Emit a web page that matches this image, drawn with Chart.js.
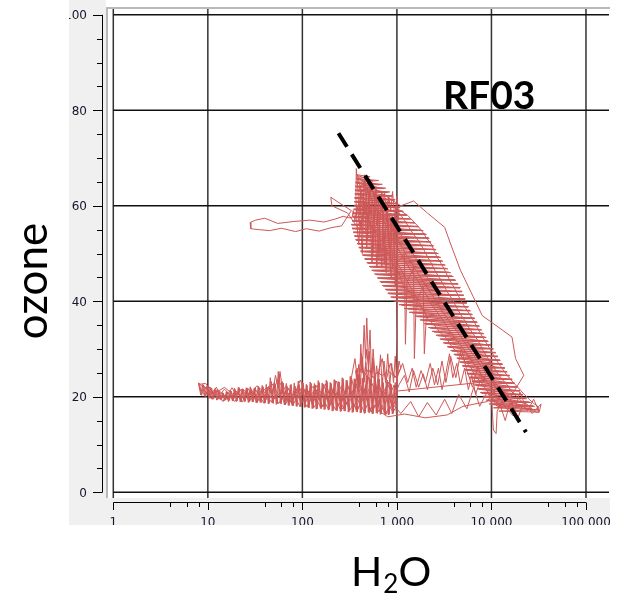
<!DOCTYPE html>
<html><head><meta charset="utf-8">
<script src="https://cdn.jsdelivr.net/npm/chart.js@4.4.1/dist/chart.umd.min.js"></script>
<style>html,body{margin:0;padding:0;background:#fff;overflow:hidden}canvas{display:block}</style>
</head><body>
<canvas id="c" width="621" height="597"></canvas>
<script>
// ---- axis ticks ----
const xTickValues = [1, 10, 100, 1000, 10000, 100000];
const xTickLabels = ['1', '10', '100', '1 000', '10 000', '100 000'];
const xMinorFactors = [4, 6, 8];
const yTickValues = [0, 20, 40, 60, 80, 100];
const yTickLabels = ['0', '20', '40', '60', '80', '100'];
const yMinorStep = 5;

// ---- fitted dashed line [H2O, ozone] ----
const fitH2O = [241, 23200];
const fitOzone = [75.2, 12.6];

// ---- flight track legs: [H2O, ozone] ----
const lowBandEast = [[8,22.6],[9.5,22.8],[10.5,21.5],[10,20.5],[11,19.5],[12,21.8],[13,20.2],[14.5,19],[16,21],[17,20.4],[18.5,19.2],[20,21.2],[22,20.1],[24,19.6],[26,21.4],[28,19.2],[31,20.8],[34,19.8],[37,21.6],[40,19.3],[44,22.2],[48,20.6],[52,24.5],[55,22.0],[58,25.3],[62,21.0],[67,19.0],[72,20.8],[78,18.5],[85,21.3],[92,19.7],[100,22.0],[108,18.8],[118,20.7],[128,18.2],[140,21.5],[152,19.4],[165,17.9],[180,20.6],[195,18.6],[212,21.8],[230,19.0],[250,17.5],[270,20.4],[295,18.4],[320,21.2],[350,17.8],[380,19.6],[410,18.3],[450,21.5],[490,19.0],[530,17.2],[580,20.2],[630,18.0],[690,21.0],[750,18.6],[820,20.4],[900,17.6],[980,19.8]];
const risingStrand = [[1000,22],[1010,28],[990,33],[1005,38],[995,44],[1010,48]];
const dropStrands = [[1200,50],[1230,31],[1280,44],[1500,47],[1530,28],[1600,40],[1900,43],[1950,29],[2050,37]];
const upperCluster = [[1010,48],[960,55],[985,60],[920,53],[890,58],[850,50],[870,45],[820,52],[790,61],[760,55],[735,48],[710,57],[690,63],[660,56],[645,49],[620,58],[600,64],[575,57],[560,50],[540,59],[520,65],[505,60],[490,53],[470,62],[455,66.5],[440,60],[425,55],[410,63],[398,58],[385,64],[372,67.8],[368,62],[378,56],[395,52],[410,57],[430,50],[448,61],[465,57],[480,51],[500,62],[525,56],[545,48],[570,60],[590,54],[615,47],[640,60],[665,53],[690,47],[715,59],[745,52],[770,46],[800,58],[830,51],[860,57],[900,47],[930,56],[960,43],[990,52],[1040,58],[1000,62],[950,57],[900,63],[860,59],[820,62],[780,57],[740,63],[700,59],[650,62],[610,56],[570,63],[530,58],[490,64],[450,58],[420,61],[400,56],[380,60],[360,57],[345,59],[335,57.5]];
const upperStrand = [[310,57.5],[270,57.8],[220,57.2],[170,56.6],[120,57.0],[80,56.7],[55,56.3],[40,57.4],[32,57.0],[28,56.5],[28.5,55.2],[35,55.0],[45,54.8],[60,55.3],[85,54.6],[110,55.2],[150,54.7],[200,55.4],[260,55.8],[330,59],[250,60.5],[200,61.8],[205,60],[300,58.5],[380,55.6],[450,54.5],[520,56]];
const diagonalHatch = [[380,66.5],[520,66.1],[370,65.7],[640,65.3],[365,64.9],[700,64.5],[362,64.1],[760,63.7],[360,63.3],[840,62.9],[358,62.5],[900,62.1],[356,61.7],[960,61.3],[355,60.9],[1000,60.5],[352,60.1],[1050,59.7],[348,59.3],[1150,58.9],[345,58.5],[1250,58.1],[340,57.7],[1350,57.3],[335,56.9],[1500,56.5],[330,56.1],[1650,55.7],[335,55.3],[1800,54.9],[345,54.5],[2000,54.1],[355,53.7],[2150,53.3],[365,52.9],[2250,52.5],[380,52.1],[2400,51.7],[395,51.3],[2500,50.9],[410,50.5],[2650,50.1],[430,49.7],[2800,49.3],[455,48.9],[2950,48.5],[480,48.1],[3100,47.7],[510,47.3],[3300,46.9],[540,46.5],[3550,46.1],[580,45.7],[3800,45.3],[620,44.9],[4100,44.5],[660,44.1],[4400,43.7],[700,43.3],[4700,42.9],[750,42.5],[4900,42.1],[800,41.7],[5100,41.3],[860,40.9],[5300,40.5],[920,40.1],[5500,39.7],[1050,39.3],[5700,38.9],[1200,38.5],[5900,38.1],[1350,37.7],[6200,37.3],[1550,36.9],[6600,36.5],[1750,36.1],[7000,35.7],[1950,35.3],[7300,34.9],[2150,34.5],[7700,34.1],[2350,33.7],[8100,33.3],[2600,32.9],[8600,32.5],[2850,32.1],[9100,31.7],[3100,31.3],[9700,30.9],[3400,30.5],[10400,30.1],[3700,29.7],[11000,29.3],[4000,28.9],[11700,28.5],[4300,28.1],[12300,27.7],[4600,27.3],[13000,26.9],[4900,26.5],[13800,26.1],[5200,25.7],[14600,25.3],[5500,24.9],[15500,24.5],[5800,24.1],[16500,23.7],[6200,23.3],[17500,22.9],[6600,22.5],[18800,22.1],[7100,21.7],[20000,21.3],[7600,20.9],[21500,20.5],[8200,20.1],[23000,19.7],[8800,19.3],[25000,18.9],[9500,18.5],[27500,18.1],[10500,17.7],[30000,17.3],[12000,17.0],[32000,16.8]];
const diagonalHatch2 = [[31000,17.2],[10000,18.4],[28500,18.0],[9000,19.2],[26000,18.8],[8400,20.0],[23500,19.6],[7800,20.8],[21500,20.4],[7300,21.6],[20000,21.2],[6800,22.4],[18800,22.0],[6300,23.2],[17600,22.8],[5900,24.0],[16600,23.6],[5600,24.8],[15600,24.4],[5300,25.6],[14700,25.2],[5000,26.4],[13900,26.0],[4700,27.2],[13100,26.8],[4400,28.0],[12400,27.6],[4100,28.8],[11700,28.4],[3800,29.6],[11100,29.2],[3500,30.4],[10500,30.0],[3200,31.2],[9900,30.8],[2950,32.0],[9300,31.6],[2700,32.8],[8800,32.4],[2450,33.6],[8300,33.2],[2250,34.4],[7900,34.0],[2050,35.2],[7500,34.8],[1850,36.0],[7100,35.6],[1650,36.8],[6700,36.4],[1450,37.6],[6300,37.2],[1300,38.4],[6000,38.0],[1120,39.2],[5700,38.8],[960,40.0],[5450,39.6],[880,40.8],[5250,40.4],[820,41.6],[5050,41.2],[770,42.4],[4850,42.0],[720,43.2],[4650,42.8],[680,44.0],[4450,43.6],[640,44.8],[4200,44.4],[600,45.6],[3950,45.2],[560,46.4],[3700,46.0],[520,47.2],[3450,46.8],[490,48.0],[3250,47.6],[460,48.8],[3050,48.4],[440,49.6],[2900,49.2],[420,50.4],[2750,50.0],[400,51.2],[2600,50.8],[385,52.0],[2450,51.6],[370,52.8],[2300,52.4],[358,53.6],[2200,53.2],[348,54.4],[2050,54.0],[338,55.2],[1900,54.8],[332,56.0],[1700,55.6],[336,56.8],[1550,56.4],[342,57.6],[1400,57.2],[346,58.4],[1280,58.0],[350,59.2],[1170,58.8],[353,60.0],[1080,59.6],[356,60.8],[1010,60.4],[358,61.6],[950,61.2],[360,62.4],[880,62.0],[362,63.2],[800,62.8],[365,64.0],[720,63.6],[368,64.8],[650,64.4],[372,65.6],[560,65.2],[378,66.4]];
const ascentMid = [[30000,16.8],[26000,17.2],[22000,17.8],[18000,18.6],[15000,19.2],[12500,20.6],[11000,22.2],[9500,24],[8500,25.2],[7500,26.8],[6600,28.5],[5900,29.8],[5200,31.4],[4600,33],[4000,34.6],[3500,36.2],[3100,37.5],[2750,39.2],[2450,40.8],[2200,42.2],[1950,43.8],[1750,45.2],[1550,46.8],[1400,48.4],[1250,49.8],[1120,51.5],[1000,53.2],[890,55],[800,56.5],[720,58.2],[650,60],[590,61.8],[530,63.6],[480,65.2]];
const descentLeft = [[400,64],[415,62.5],[430,61],[450,59.5],[480,58],[500,57],[520,56],[580,54.5],[680,53],[740,51.5],[820,50],[880,48.5],[950,47],[1040,46.2],[1150,43.6],[1300,42.5],[1500,41],[1650,39.5],[1900,38.3],[2150,36.2],[2500,35],[2850,33.5],[3300,32.4],[3900,30.2],[4600,29],[5200,27.5],[6000,26.3],[6800,24.2],[7800,23],[8800,21.5],[9800,20.3],[10700,18.8],[11500,18]];
const ascentRight = [[27000,17.5],[24000,18.4],[21000,19],[18500,20.1],[16500,21],[14500,22.6],[12500,24],[11200,25.4],[10000,27],[9000,28.3],[8000,30],[7300,31.6],[6500,33],[5800,34.4],[5200,36],[4700,37.3],[4200,39],[3800,40.6],[3400,42],[3100,43.5],[2800,45],[2550,46.3],[2300,48],[2100,49.4],[1900,51],[1700,52.6],[1500,54],[1350,55.4],[1200,57],[1050,58.6],[900,60]];
const descentRight = [[1300,58],[1550,56.4],[1800,55],[2050,53.3],[2300,52],[2500,50.4],[2700,49],[3000,47.6],[3300,46],[3650,44.3],[4000,43],[4400,41.4],[4800,40],[5400,38.4],[6000,37],[6600,35.6],[7300,34],[8100,32.4],[9000,31],[10000,29.5],[11000,28],[12500,26.4],[14000,25],[16500,23.3],[19000,22],[22000,20.6],[25000,19.5],[28000,18.6],[31000,18]];
const descentCentre = [[560,63],[620,61.3],[700,60],[790,58.4],[900,57],[990,55.6],[1100,54],[1220,52.3],[1350,51],[1520,49.6],[1700,48],[1880,46.4],[2100,45],[2330,43.3],[2600,42],[2880,40.4],[3200,39],[3600,37.6],[4000,36],[4500,34.3],[5000,33],[5600,31.5],[6300,30],[7100,28.4],[8000,27],[9000,25.3],[10000,24],[11500,22.4],[13000,21],[15000,19.6],[17000,18.5]];
const ascentLeft = [[14000,18],[12800,19.3],[11500,20],[10300,21.6],[9000,23],[8000,24.4],[7000,26],[6300,27.3],[5500,29],[4800,30.6],[4200,32],[3700,33.4],[3300,35],[2900,36.7],[2600,38],[2300,39.5],[2100,41],[1900,42.3],[1700,44],[1500,45.6],[1350,47],[1220,48.4],[1100,50],[1000,51.6],[900,53],[830,54.3],[760,56],[690,57.4],[620,59],[570,60.5],[520,62],[480,63.4],[450,65]];
const outerEdge = [[1100,60],[1500,61],[2100,58.5],[3200,55.5],[3700,52],[4700,46.5],[6400,41],[8000,37],[13000,34],[16500,32.5],[18000,28],[22000,24.5],[16000,20]];
const rightEnd = [[14000,20.5],[11500,17],[11200,12.3],[10500,13],[10000,20],[12500,18],[14000,15],[16000,19.5],[19000,15.5],[22000,19],[27000,16.5],[33500,18.5],[32000,16.8],[28000,19.5],[24000,17],[20000,21],[17000,16],[13000,18.5],[10500,19]];
const lowBandWest = [[9000,21],[7500,18],[6500,22],[5500,17.5],[4500,20.5],[3800,16.5],[3200,19.5],[2600,16.2],[2100,18.8],[1700,15.8],[1400,19],[1100,16.5],[900,18.5],[760,16.2],[640,19.2],[540,16.8],[460,20.3],[380,17.3],[320,19.5],[270,17.8],[230,20.8],[195,18.4],[165,20.9],[140,18.8],[118,21.3],[100,19.2],[85,20.4],[72,18.9],[60,21.1],[50,19.5],[42,20.7],[35,19.3],[29,21.2],[24,19.9],[20,20.8],[16,19.6],[13,21.4],[11,20.6],[9,22.3]];
const lowBandEast2 = [[10,21.4],[12,20.8],[15,22.0],[19,20.3],[23,21.6],[28,20.5],[33,22.3],[40,20.9],[48,22.7],[57,20.2],[68,22.4],[80,19.8],[95,23.5],[110,20.5],[130,22.2],[150,19.6],[175,22.7],[200,20.0],[230,23.3],[260,18.9],[300,22.5],[340,20.3],[390,23.6],[440,20.6],[500,24.1],[560,19.4],[640,22.8],[720,20.1],[810,23.1],[920,19.5],[1050,22.5],[1200,24.5],[1350,21.0],[1500,25.5],[1700,22.0],[1900,24.8],[2100,21.5],[2400,26.0],[2700,22.5],[3000,27.5],[3300,23.0],[3700,28.5],[4200,24.0],[4800,30.0],[5500,25.5],[6300,22.0],[7200,26.5],[8200,23.0],[9500,27.5],[11000,21.5]];
const lowerSpikes = [[9000,19],[5000,18],[3400,16.2],[2000,15.6],[1200,16.4],[800,15.8],[650,17],[600,22],[560,30],[540,24],[520,34],[500,27],[480,36.5],[465,28],[450,35],[430,25],[415,31],[400,22],[380,26],[360,21],[330,24],[360,28],[390,22],[420,29],[450,23],[480,30],[520,22],[560,27],[600,21],[650,26],[700,28],[760,23],[850,27],[950,24],[1100,26]];
const lowerLeftBlob = [[1050,27.5],[1000,22.5],[960,28.5],[920,23],[880,27],[840,22.5],[800,29],[765,23.5],[730,27.5],[700,22],[670,28.8],[640,23.2],[610,26.5],[585,22.4],[560,28],[535,23],[510,29.5],[490,22.8],[470,27.2],[450,23.5],[430,28.4],[410,22.6],[395,26.8],[380,23],[365,25.5],[390,24.2],[420,26],[460,24.5],[500,25.8],[560,24],[620,25.2],[700,24.4],[800,25.5],[900,24.6]];
const midLowCluster = [[1000,24],[1150,27],[1300,23],[1450,26],[1600,22],[1800,25.5],[2000,23],[2250,27],[2500,22.5],[2750,26],[3000,21.5],[3300,25],[3600,29],[3900,24],[4300,27],[4700,22.5],[5200,26],[5700,21.5],[6200,24.5],[6800,20.5],[7500,23]];
const lowBandFillA = [[1000,21.2],[930,22.4],[870,21.0],[800,22.6],[740,21.4],[690,20.6],[640,22.0],[590,21.1],[545,22.8],[500,21.3],[465,20.4],[430,22.1],[395,21.0],[365,22.5],[335,20.8],[310,21.9],[285,20.6],[262,22.3],[240,21.2],[220,20.3],[202,21.8],[186,20.7],[170,22.0],[156,20.9],[143,22.4],[131,21.0],[120,20.2],[110,21.6],[101,20.5],[93,22.0],[85,21.2],[78,20.3],[71,21.7],[65,20.6],[60,22.4],[55,23.6],[50,21.8],[46,20.8],[42,22.0],[38,21.1],[35,20.3],[32,21.5],[29,20.4],[26.5,21.8],[24,20.6],[22,21.5],[20,20.5],[18,21.9],[16.5,20.8],[15,21.6],[13.5,20.5],[12.3,22.0],[11.2,21.0],[10.2,22.2],[9.3,21.7],[8.5,22.4],[8,22.9]];
const lowBandFillB = [[8.2,21.5],[9,20.6],[10,21.0],[11,19.8],[12,20.4],[13.2,19.5],[14.5,20.6],[16,19.4],[17.5,20.2],[19.2,19.0],[21,20.0],[23,18.9],[25,20.1],[27.5,19.1],[30,20.3],[33,18.8],[36,19.9],[39,18.7],[43,20.0],[47,18.9],[51,20.2],[56,18.6],[61,19.8],[66,18.4],[72,19.6],[79,18.2],[86,19.5],[94,18.0],[103,19.3],[112,17.9],[122,19.4],[133,17.8],[145,19.0],[158,17.6],[172,18.9],[188,17.5],[205,18.8],[224,17.3],[245,18.7],[268,17.4],[292,18.9],[318,17.2],[347,18.6],[378,17.0],[412,18.5],[450,16.9],[490,18.4],[535,16.8],[585,18.3],[640,16.9],[700,18.2],[765,16.6],[835,18.0],[910,16.8],[1000,18.1]];
const lowBandHatch2 = [[960,23.0],[915,16.5],[872,22.6],[830,16.3],[791,23.5],[753,16.4],[717,23.0],[683,16.4],[651,23.7],[620,16.5],[590,24.0],[562,16.5],[536,23.8],[510,16.6],[486,24.6],[463,16.6],[441,24.0],[420,16.7],[400,24.2],[381,16.8],[363,23.7],[346,16.8],[329,24.0],[313,16.9],[298,23.4],[284,17.0],[270,23.8],[258,17.0],[246,23.1],[234,17.1],[223,23.4],[212,17.1],[202,22.8],[192,17.3],[183,23.2],[174,17.4],[166,22.7],[158,17.5],[151,23.0],[144,17.5],[137,22.5],[130,17.6],[124,22.8],[118,17.7],[112,22.4],[107,17.8],[102,22.9],[97,17.9],[92.5,22.6],[88,18.0],[84,22.2],[80,18.1],[76,22.6],[72.5,18.2],[69,22.0],[66,18.3],[62.8,22.9],[59.8,18.5],[57,24.4],[54.3,18.5],[51.7,22.5],[49.2,18.6],[46.9,23.2],[44.6,18.6],[42.5,22.0],[40.5,18.7],[38.5,22.1],[36.7,18.8],[35,21.9],[33.3,18.8],[31.7,22.0],[30.2,18.9],[28.8,21.7],[27.4,18.9],[26.1,21.8],[24.9,19.0],[23.7,21.6],[22.5,19.0],[21.5,21.9],[20.4,19.1],[19.5,21.5],[18.6,19.2],[17.7,21.2],[16.9,19.2],[16.1,21.0],[15.3,19.3],[14.6,20.8],[13.9,19.3],[13.3,21.1],[12.7,19.4],[12.1,21.4],[11.5,19.5],[11,21.8],[10.5,19.7],[10,22.1],[9.5,20.0],[9,22.5],[8.6,20.3],[8.2,22.6]];
const lowBandHatch = [[8,22.8],[8.4,20.4],[8.8,22.6],[9.2,20.1],[9.7,22.2],[10.2,19.6],[10.7,22.0],[11.2,19.5],[11.8,21.3],[12.4,19.3],[13,21.0],[13.6,19.4],[14.3,20.9],[15,19.2],[15.7,21.1],[16.5,19.0],[17.3,21.4],[18.2,19.1],[19.1,21.8],[20,19.0],[21,22.0],[22,18.9],[23.1,21.7],[24.3,19.0],[25.5,21.9],[26.8,18.8],[28.1,22.1],[29.5,18.9],[31,21.8],[32.5,18.7],[34.1,22.2],[35.8,18.8],[37.6,22.4],[39.5,18.6],[41.5,22.6],[43.6,18.5],[45.8,24.0],[48,18.7],[50.4,23.0],[53,18.4],[55.6,25.3],[58.4,18.6],[61.3,23.2],[64.4,18.3],[67.6,22.8],[71,18.2],[74.5,22.5],[78.2,18.1],[82.1,22.9],[86.2,18.0],[90.5,23.3],[95,17.9],[99.8,23.0],[105,17.8],[110,22.6],[115.5,17.7],[121,23.1],[127,17.5],[134,22.8],[140,17.4],[147,23.4],[155,17.6],[162,22.9],[170,17.3],[179,23.5],[188,17.2],[197,23.0],[207,17.0],[217,23.6],[228,17.1],[240,23.2],[252,16.9],[264,24.0],[277,17.0],[291,23.5],[306,16.8],[321,24.3],[337,16.7],[354,23.8],[372,16.9],[390,24.6],[410,16.6],[430,23.9],[452,16.5],[474,24.4],[498,16.8],[523,23.6],[549,16.4],[576,24.2],[605,16.6],[635,23.4],[667,16.3],[700,23.9],[735,16.5],[772,23.2],[811,16.2],[851,22.8],[894,16.4],[938,22.5],[985,16.6]];

const flightTrack = [].concat(lowBandEast, risingStrand, dropStrands, upperCluster, upperStrand,
  diagonalHatch, ascentMid, descentLeft, ascentRight, descentRight, diagonalHatch2,
  descentCentre, ascentLeft, outerEdge, rightEnd, lowBandWest, lowBandEast2, lowerSpikes,
  lowerLeftBlob, midLowCluster, lowBandFillA, lowBandFillB, lowBandHatch2, lowBandHatch);

const W = 621, H = 597;
const panel = {left: 69, right: 610, bottom: 525};
const plotBox = {left: 106, top: 0, right: 610, bottom: 498, frameY: 8};

const decor = {
  id: 'decor',
  beforeDraw(chart) {
    const ctx = chart.ctx, xs = chart.scales.x, ys = chart.scales.y;
    ctx.save();
    ctx.fillStyle = '#ffffff'; ctx.fillRect(0, 0, W, H);
    ctx.fillStyle = '#f0f0f0'; ctx.fillRect(panel.left, 0, panel.right - panel.left, panel.bottom);
    ctx.fillStyle = '#ffffff'; ctx.fillRect(plotBox.left, plotBox.top, plotBox.right - plotBox.left, plotBox.bottom - plotBox.top);
    ctx.strokeStyle = '#b9b9b9'; ctx.lineWidth = 2;
    ctx.beginPath();
    ctx.moveTo(107, plotBox.bottom); ctx.lineTo(107, plotBox.frameY); ctx.lineTo(plotBox.right, plotBox.frameY);
    ctx.stroke();
    ctx.strokeStyle = '#333'; ctx.lineWidth = 1.5;
    xTickValues.forEach(v => {
      const px = xs.getPixelForValue(v);
      ctx.beginPath(); ctx.moveTo(px, plotBox.frameY + 1); ctx.lineTo(px, plotBox.bottom); ctx.stroke();
    });
    ctx.strokeStyle = '#111'; ctx.lineWidth = 1.5;
    const x0 = xs.getPixelForValue(xTickValues[0]);
    yTickValues.forEach(v => {
      const py = ys.getPixelForValue(v);
      ctx.beginPath(); ctx.moveTo(x0, py); ctx.lineTo(plotBox.right - 1, py); ctx.stroke();
    });
    ctx.restore();
  },
  afterDraw(chart) {
    const ctx = chart.ctx, xs = chart.scales.x, ys = chart.scales.y;
    ctx.save();
    ctx.strokeStyle = '#000'; ctx.lineWidth = 1;
    const yAxisX = 102.5;
    const yTop = ys.getPixelForValue(yTickValues[yTickValues.length - 1]);
    const yBot = ys.getPixelForValue(yTickValues[0]);
    ctx.beginPath(); ctx.moveTo(yAxisX, yTop); ctx.lineTo(yAxisX, yBot); ctx.stroke();
    for (let v = yTickValues[0]; v <= yTickValues[yTickValues.length - 1]; v += yMinorStep) {
      const py = Math.round(ys.getPixelForValue(v)) + 0.5;
      const major = yTickValues.includes(v);
      ctx.beginPath(); ctx.moveTo(major ? 93 : 97, py); ctx.lineTo(yAxisX, py); ctx.stroke();
    }
    const xAxisY = 502.5;
    const xL = xs.getPixelForValue(xTickValues[0]);
    const xR = xs.getPixelForValue(xTickValues[xTickValues.length - 1]);
    ctx.beginPath(); ctx.moveTo(xL, xAxisY); ctx.lineTo(xR, xAxisY); ctx.stroke();
    xTickValues.forEach((v, i) => {
      const px = Math.round(xs.getPixelForValue(v)) + 0.5;
      ctx.beginPath(); ctx.moveTo(px, xAxisY); ctx.lineTo(px, 510); ctx.stroke();
      if (i < xTickValues.length - 1) {
        xMinorFactors.forEach(f => {
          const pm = Math.round(xs.getPixelForValue(v * f)) + 0.5;
          ctx.beginPath(); ctx.moveTo(pm, xAxisY); ctx.lineTo(pm, 507); ctx.stroke();
        });
      }
    });
    ctx.save();
    ctx.beginPath(); ctx.rect(panel.left, 0, panel.right - panel.left, panel.bottom); ctx.clip();
    ctx.fillStyle = '#15152a';
    ctx.font = '12px "DejaVu Sans"';
    ctx.textAlign = 'right'; ctx.textBaseline = 'alphabetic';
    yTickValues.forEach((v, i) => ctx.fillText(yTickLabels[i], 87, ys.getPixelForValue(v) + 4.5));
    ctx.textAlign = 'center';
    xTickValues.forEach((v, i) => ctx.fillText(xTickLabels[i], xs.getPixelForValue(v), 526));
    ctx.restore();

    ctx.fillStyle = '#000';
    ctx.save();
    ctx.translate(47, 281); ctx.rotate(-Math.PI / 2);
    ctx.font = '44px Lato'; ctx.textAlign = 'center'; ctx.textBaseline = 'alphabetic';
    ctx.fillText('ozone', 0, 0);
    ctx.restore();

    ctx.textAlign = 'left'; ctx.textBaseline = 'alphabetic';
    let tx = 351;
    ctx.font = '41px Lato'; ctx.fillText('H', tx, 586); tx += ctx.measureText('H').width;
    ctx.font = '26px Lato'; ctx.fillText('2', tx + 1, 593); tx += ctx.measureText('2').width + 1;
    ctx.font = '41px Lato'; ctx.fillText('O', tx, 586);

    ctx.font = 'bold 39px Lato';
    ctx.fillText('RF03', 443, 109);
    ctx.restore();
  }
};

new Chart(document.getElementById('c'), {
  type: 'scatter',
  data: {
    datasets: [
      {
        label: 'fit',
        data: fitH2O.map((x, i) => ({x: x, y: fitOzone[i]})),
        showLine: true, borderColor: '#000', borderWidth: 4, borderDash: [16, 9],
        pointRadius: 0, tension: 0, fill: false, order: 0
      },
      {
        label: 'RF03',
        data: flightTrack.map(p => ({x: p[0], y: p[1]})),
        showLine: true, borderColor: 'rgb(206,88,88)', borderWidth: 1,
        pointRadius: 0, tension: 0, fill: false, order: 1
      }
    ]
  },
  options: {
    responsive: false, animation: false, devicePixelRatio: 1,
    layout: {padding: {left: 113.3, right: 11, top: 14.8, bottom: 104.7}},
    scales: {
      x: {type: 'logarithmic', min: 1, max: 179500, display: false},
      y: {type: 'linear', min: 0, max: 100, display: false}
    },
    plugins: {legend: {display: false}, tooltip: {enabled: false}}
  },
  plugins: [decor]
});
</script>
</body></html>
